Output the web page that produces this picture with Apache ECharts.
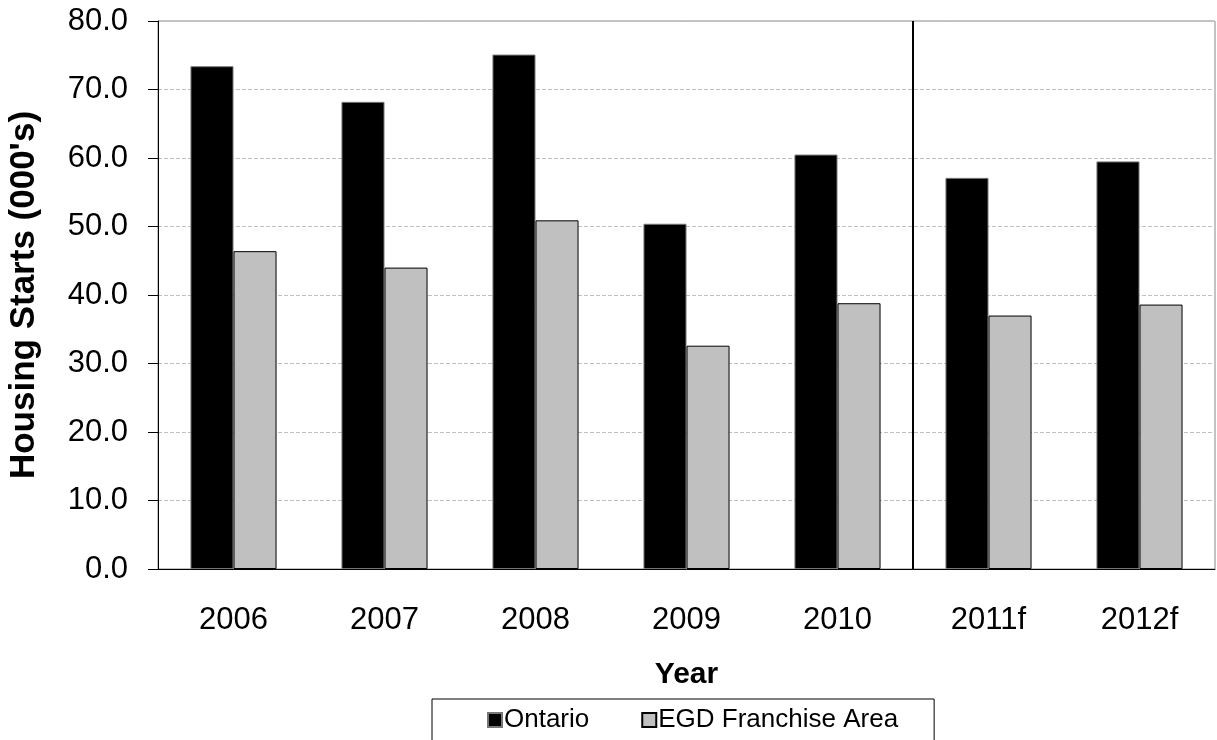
<!DOCTYPE html>
<html>
<head>
<meta charset="utf-8">
<title>Housing Starts</title>
<script src="https://cdn.jsdelivr.net/npm/echarts@6/dist/echarts.min.js"></script>
<style>
  html, body { margin: 0; padding: 0; background: #fff; }
  #chart { width: 1217px; height: 740px; }
</style>
</head>
<body>
<div id="chart"></div>
<script>
// data
var years = ['2006', '2007', '2008', '2009', '2010', '2011f', '2012f']
var ontario = [73.4, 68.2, 75.1, 50.4, 60.5, 57.1, 59.5]
var egd = [46.4, 44.0, 50.9, 32.6, 38.8, 37.0, 38.6]

// forecast years start after the last actual year (marked with "f")
var forecastStart = years.findIndex(function (y) { return y.indexOf('f') > -1 })

var font = "'Liberation Sans', Arial, sans-serif"

var chart = echarts.init(document.getElementById('chart'))
chart.setOption({
  animation: false,
  textStyle: { fontFamily: font, color: '#000' },
  grid: {
    left: 158,
    right: 2,
    top: 21,
    bottom: 171,
    outerBoundsMode: 'none',
    show: true,
    borderColor: '#888',
    borderWidth: 1
  },
  legend: {
    data: ['Ontario', 'EGD Franchise Area'],
    left: 432,
    top: 699,
    padding: [8, 36, 40, 55],
    itemWidth: 14,
    itemHeight: 14,
    itemGap: 52,
    borderColor: '#000',
    borderWidth: 1,
    icon: 'rect',
    textStyle: { fontSize: 26, color: '#000', fontFamily: font, padding: [0, 0, 0, -3] }
  },
  xAxis: [
    {
      type: 'category',
      data: years,
      name: 'Year',
      nameLocation: 'middle',
      nameGap: 91,
      nameTextStyle: { fontSize: 30, fontWeight: 'bold', color: '#000', fontFamily: font },
      axisLine: { lineStyle: { color: '#000', width: 1 } },
      axisTick: { length: 10, lineStyle: { color: '#000' } },
      axisLabel: { fontSize: 31, color: '#000', margin: 36, fontFamily: font }
    },
    {
      // hidden helper axis to place the actual/forecast divider
      type: 'value',
      min: 0,
      max: years.length,
      show: false
    }
  ],
  yAxis: {
    type: 'value',
    min: 0,
    max: 80,
    interval: 10,
    name: "Housing Starts (000's)",
    nameLocation: 'middle',
    nameGap: 116,
    nameTextStyle: { fontSize: 35, fontWeight: 'bold', color: '#000', fontFamily: font },
    axisLine: { show: true, lineStyle: { color: '#000', width: 1 } },
    axisTick: { show: true, length: 10, lineStyle: { color: '#000' } },
    axisLabel: {
      fontSize: 31,
      color: '#000',
      margin: 30,
      fontFamily: font,
      formatter: function (v) { return v.toFixed(1) }
    },
    splitLine: { lineStyle: { color: '#c0c0c0', type: [4, 2] } }
  },
  series: [
    {
      name: 'Ontario',
      type: 'bar',
      data: ontario,
      barGap: '0%',
      barCategoryGap: '43%',
      itemStyle: { color: '#000', borderColor: '#777', borderWidth: 1 }
    },
    {
      name: 'EGD Franchise Area',
      type: 'bar',
      data: egd,
      itemStyle: { color: '#c0c0c0', borderColor: '#000', borderWidth: 1 }
    },
    {
      name: 'divider',
      type: 'line',
      xAxisIndex: 1,
      data: [[forecastStart, 0], [forecastStart, 80]],
      symbol: 'none',
      silent: true,
      lineStyle: { color: '#000', width: 2 },
      z: 5
    }
  ]
})
</script>
</body>
</html>
